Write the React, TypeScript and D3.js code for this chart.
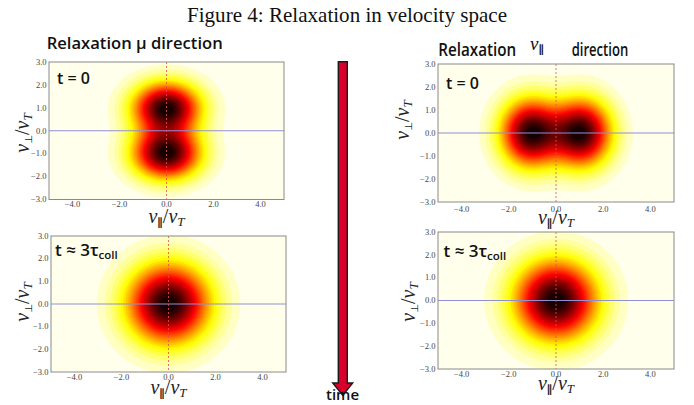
import React, { useMemo } from 'react';
import * as d3 from 'd3';

// ---------- data ----------
const xTicks = [-4, -2, 0, 2, 4];
const yTicks = [-3, -2, -1, 0, 1, 2, 3];
const xDomain: [number, number] = [-5, 5];
const yDomain: [number, number] = [-3, 3];

// distribution model: gaussian peak centres (v∥, v⊥) and widths (σ∥, σ⊥)
const muInitCentres = [[0, 1], [0, -1]];
const muInitWidths = [0.98, 0.75];
const parInitCentres = [[-1.08, 0], [1.08, 0]];
const parInitWidths = [0.86, 1.0];
const relaxedCentres = [[0, 0]];
const relaxedWidths = [1.2, 1.2];
const levelCount = 25;

const figureTitle = 'Figure 4: Relaxation in velocity space';
const leftTitle = 'Relaxation μ direction';
const rightTitleA = 'Relaxation';
const rightTitleB = 'direction';
const timeLabel = 'time';

// ---------- helpers ----------
function hot(x: number) {
  const r = x < 0.365079 ? 0.0416 + (1 - 0.0416) * (x / 0.365079) : 1;
  const g = x < 0.365079 ? 0 : x < 0.746032 ? (x - 0.365079) / (0.746032 - 0.365079) : 1;
  const b = x < 0.746032 ? 0 : (x - 0.746032) / (1 - 0.746032);
  return d3.rgb(r * 255, g * 255, b * 255).formatHex();
}
const hotR = (v: number) => hot(1 - v);
const fmt = (v: number) => (v < 0 ? '\u2212' : '') + Math.abs(v).toFixed(1);

const NX = 241;
const NY = 145;

function field(centres: number[][], widths: number[]) {
  const dx = (xDomain[1] - xDomain[0]) / (NX - 1);
  const dy = (yDomain[1] - yDomain[0]) / (NY - 1);
  const vals = new Float64Array(NX * NY);
  let mx = 0;
  for (let j = 0; j < NY; j++) {
    const y = yDomain[0] + j * dy;
    for (let i = 0; i < NX; i++) {
      const x = xDomain[0] + i * dx;
      let s = 0;
      for (const c of centres) {
        s += Math.exp(-((x - c[0]) ** 2) / (2 * widths[0] ** 2) - ((y - c[1]) ** 2) / (2 * widths[1] ** 2));
      }
      vals[j * NX + i] = s;
      if (s > mx) mx = s;
    }
  }
  for (let k = 0; k < vals.length; k++) vals[k] /= mx;
  return Array.from(vals);
}

type Panel = {
  key: string;
  x0: number; x1: number; y0: number; y1: number;
  centres: number[][]; widths: number[];
  relaxed: boolean;
  tdx: number; tdy: number;
  ylabX: number; ylabCy: number;
  xlabDy: number; xtickDy: number;
};

const panels: Panel[] = [
  { key: 'tl', x0: 49, x1: 284, y0: 62, y1: 199.5, centres: muInitCentres, widths: muInitWidths, relaxed: false, tdx: 8, tdy: 21.5, ylabX: 29, ylabCy: 133, xlabDy: 23, xtickDy: 7.5 },
  { key: 'bl', x0: 51, x1: 286, y0: 236, y1: 372, centres: relaxedCentres, widths: relaxedWidths, relaxed: true, tdx: 4, tdy: 20, ylabX: 29, ylabCy: 302, xlabDy: 22, xtickDy: 7.5 },
  { key: 'tr', x0: 438, x1: 674, y0: 64, y1: 202, centres: parInitCentres, widths: parInitWidths, relaxed: false, tdx: 8, tdy: 25, ylabX: 409, ylabCy: 120, xlabDy: 22, xtickDy: 10 },
  { key: 'br', x0: 438, x1: 674, y0: 232, y1: 369, centres: relaxedCentres, widths: relaxedWidths, relaxed: true, tdx: 5.5, tdy: 25, ylabX: 415, ylabCy: 302, xlabDy: 20.5, xtickDy: 8 },
];

const MATH = '"Liberation Serif", "DejaVu Serif", serif';
const SYM = '"DejaVu Sans", "Noto Sans", sans-serif';
const SANS = '"Open Sans", "Noto Sans", sans-serif';

function PanelView({ p }: { p: Panel }) {
  const xs = d3.scaleLinear().domain(xDomain).range([p.x0, p.x1]);
  const ys = d3.scaleLinear().domain(yDomain).range([p.y1, p.y0]);
  const bands = useMemo(() => {
    const vals = field(p.centres, p.widths);
    const thresholds = d3.range(levelCount).map((i) => i / levelCount);
    return d3.contours().size([NX, NY]).thresholds(thresholds)(vals);
  }, [p.key]);
  const dx = (xDomain[1] - xDomain[0]) / (NX - 1);
  const dy = (yDomain[1] - yDomain[0]) / (NY - 1);
  const proj = d3.geoTransform({
    point(this: any, gx: number, gy: number) {
      this.stream.point(xs(xDomain[0] + (gx - 0.5) * dx), ys(yDomain[0] + (gy - 0.5) * dy));
    },
  });
  const path = d3.geoPath(proj);
  const clipId = 'clip-' + p.key;
  const cx = (p.x0 + p.x1) / 2;
  return (
    <g>
      <defs>
        <clipPath id={clipId}>
          <rect x={p.x0} y={p.y0} width={p.x1 - p.x0} height={p.y1 - p.y0} />
        </clipPath>
      </defs>
      <g clipPath={`url(#${clipId})`}>
        {bands.map((b, i) => (
          <path key={i} d={path(b as any) || ''} fill={hotR((i + 0.5) / levelCount)} stroke={hotR((i + 0.5) / levelCount)} strokeWidth={0.4} />
        ))}
        <line x1={p.x0} x2={p.x1} y1={ys(0)} y2={ys(0)} stroke="#8f8fd6" strokeWidth={1} />
        <line x1={xs(0)} x2={xs(0)} y1={p.y0} y2={p.y1} stroke="#e2504a" strokeWidth={0.8} strokeDasharray="2,2" />
      </g>
      <rect x={p.x0} y={p.y0} width={p.x1 - p.x0} height={p.y1 - p.y0} fill="none" stroke="#8a8a8a" strokeWidth={1} />
      {xTicks.map((t) => (
        <text key={'x' + t} x={xs(t)} y={p.y1 + p.xtickDy} textAnchor="middle" fontFamily={MATH} fontSize={8.5} fill="#444">{fmt(t)}</text>
      ))}
      {yTicks.map((t) => (
        <text key={'y' + t} x={p.x0 - 2.5} y={ys(t)} dy="0.33em" textAnchor="end" fontFamily={MATH} fontSize={8.5} fill="#444">{fmt(t)}</text>
      ))}
      <text x={cx} y={p.y1 + p.xlabDy} textAnchor="middle" fontFamily={MATH} fontSize={20} fill="#222">
        <tspan fontStyle="italic">v</tspan>
        <tspan fontFamily={SYM} fontWeight="bold" fontSize={11} dy={3} fill="#222">∥</tspan>
        <tspan dy={-3}>/</tspan>
        <tspan fontStyle="italic">v</tspan>
        <tspan fontSize={13} fontStyle="italic" dy={3}>T</tspan>
      </text>
      <text transform={`translate(${p.ylabX},${p.ylabCy}) rotate(-90)`} textAnchor="middle" fontFamily={MATH} fontSize={20} fill="#222">
        <tspan fontStyle="italic">v</tspan>
        <tspan fontFamily={SYM} fontSize={10} dy={3}>⊥</tspan>
        <tspan dy={-3}>/</tspan>
        <tspan fontStyle="italic">v</tspan>
        <tspan fontSize={13} fontStyle="italic" dy={3}>T</tspan>
      </text>
      {p.relaxed ? (
        <text x={p.x0 + p.tdx} y={p.y0 + p.tdy} fontFamily={SANS} fontWeight={600} fontSize={17} fill="#111">
          t ≈ 3τ<tspan fontSize={11.5} dy={3}>coll</tspan>
        </text>
      ) : (
        <text x={p.x0 + p.tdx} y={p.y0 + p.tdy} fontFamily={SANS} fontWeight={600} fontSize={16} fill="#111">t = 0</text>
      )}
    </g>
  );
}

export default function App() {
  const W = 694;
  const H = 405;
  return (
    <svg width={W} height={H} viewBox={`0 0 ${W} ${H}`} style={{ position: 'absolute', left: 0, top: 0, background: '#fff' }}>
      <rect x={0} y={0} width={W} height={H} fill="#fff" />
      <text x={187} y={22} fontFamily={MATH} fontSize={21} fill="#111" textLength={320} lengthAdjust="spacingAndGlyphs">{figureTitle}</text>
      <text x={46.7} y={48.5} fontFamily={SANS} fontWeight={600} fontSize={17} fill="#111" textLength={176} lengthAdjust="spacingAndGlyphs">{leftTitle}</text>
      <text x={438.3} y={56} fontFamily={SANS} fontWeight={600} fontSize={18} fill="#111" textLength={78} lengthAdjust="spacingAndGlyphs">{rightTitleA}</text>
      <text x={530} y={49.5} fontFamily={MATH} fontSize={19} fill="#111">
        <tspan fontStyle="italic">v</tspan>
        <tspan fontFamily={SYM} fontWeight="bold" fontSize={11} dy={3} fill="#111">∥</tspan>
      </text>
      <text x={571.7} y={56} fontFamily={SANS} fontWeight={600} fontSize={18} fill="#111" textLength={56.5} lengthAdjust="spacingAndGlyphs">{rightTitleB}</text>
      {panels.map((p) => (
        <PanelView key={p.key} p={p} />
      ))}
      <polygon
        points="338.3,61.7 347.3,61.7 347.3,383 352.7,383 342.8,395.5 332.7,383 338.3,383"
        fill="#d8002b"
        stroke="#1a1a1a"
        strokeWidth={1.4}
        strokeLinejoin="miter"
      />
      <text x={342.5} y={400} textAnchor="middle" fontFamily={SANS} fontWeight={600} fontSize={15} fill="#111">{timeLabel}</text>
    </svg>
  );
}
